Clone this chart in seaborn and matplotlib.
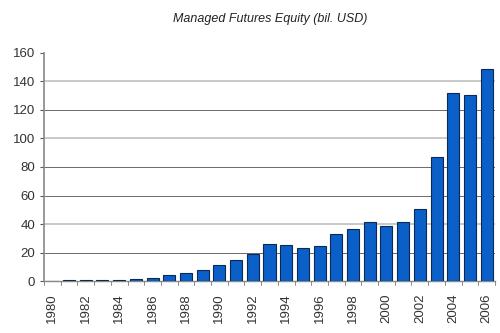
import matplotlib
matplotlib.use("Agg")
import matplotlib.pyplot as plt
import seaborn as sns
import pandas as pd

years = [str(y) for y in range(1980, 2007)]
equity = [0.3, 0.4, 0.5, 0.8, 1.0, 1.5, 1.8, 4.2, 5.4, 7.5, 11.0, 14.5, 18.7,
          26.2, 25.0, 22.9, 24.3, 33.2, 36.2, 41.6, 38.4, 41.6, 50.8, 86.8,
          131.7, 130.3, 148.6]
yticks = [0, 20, 40, 60, 80, 100, 120, 140, 160]
grid_light = [40, 100, 140]
grid_dark = [20, 60, 80, 120]

df = pd.DataFrame({"year": years, "equity": equity})

sns.set_style("white")
plt.rcParams["font.family"] = ["Liberation Sans", "DejaVu Sans"]
fig = plt.figure(figsize=(5, 3.33), dpi=100)
ax = fig.add_axes([0.088, 0.156, 0.902, 0.685])

sns.barplot(data=df, x="year", y="equity", color="#0a5fc8", saturation=1,
            edgecolor="#0a2a55", linewidth=0.8, width=0.72, ax=ax, zorder=3)

ax.set_ylim(0, 160)
ax.set_yticks(yticks)
ax.set_xlim(-0.5, len(years) - 0.5)
for t in grid_light:
    ax.axhline(t, color="#c4c4c4", lw=1.3, zorder=1)
for t in grid_dark:
    ax.axhline(t, color="#6a6a6a", lw=0.7, zorder=1)

ax.set_xticks(range(len(years)))
ax.set_xticklabels([y if int(y) % 2 == 0 else "" for y in years], rotation=90)
ax.tick_params(axis="x", length=0, labelsize=9.5, pad=9, labelcolor="#333333")
ax.tick_params(axis="y", labelsize=9.5, length=3, color="#555555", left=True,
               labelcolor="#333333")
for x in range(len(years) + 1):
    ax.plot([x - 0.5, x - 0.5], [0, -2.5], color="#777777", lw=0.6, clip_on=False)

ax.set_xlabel("")
ax.set_ylabel("")
for s in ["top", "right"]:
    ax.spines[s].set_visible(False)
ax.spines["left"].set_color("#888888")
ax.spines["left"].set_linewidth(1.2)
ax.spines["bottom"].set_color("#888888")
ax.spines["bottom"].set_linewidth(1.0)

fig.text(0.54, 0.942, "Managed Futures Equity (bil. USD)", ha="center", va="center",
         fontsize=9, style="italic", color="#222222")

fig.savefig("out.png", dpi=100)
